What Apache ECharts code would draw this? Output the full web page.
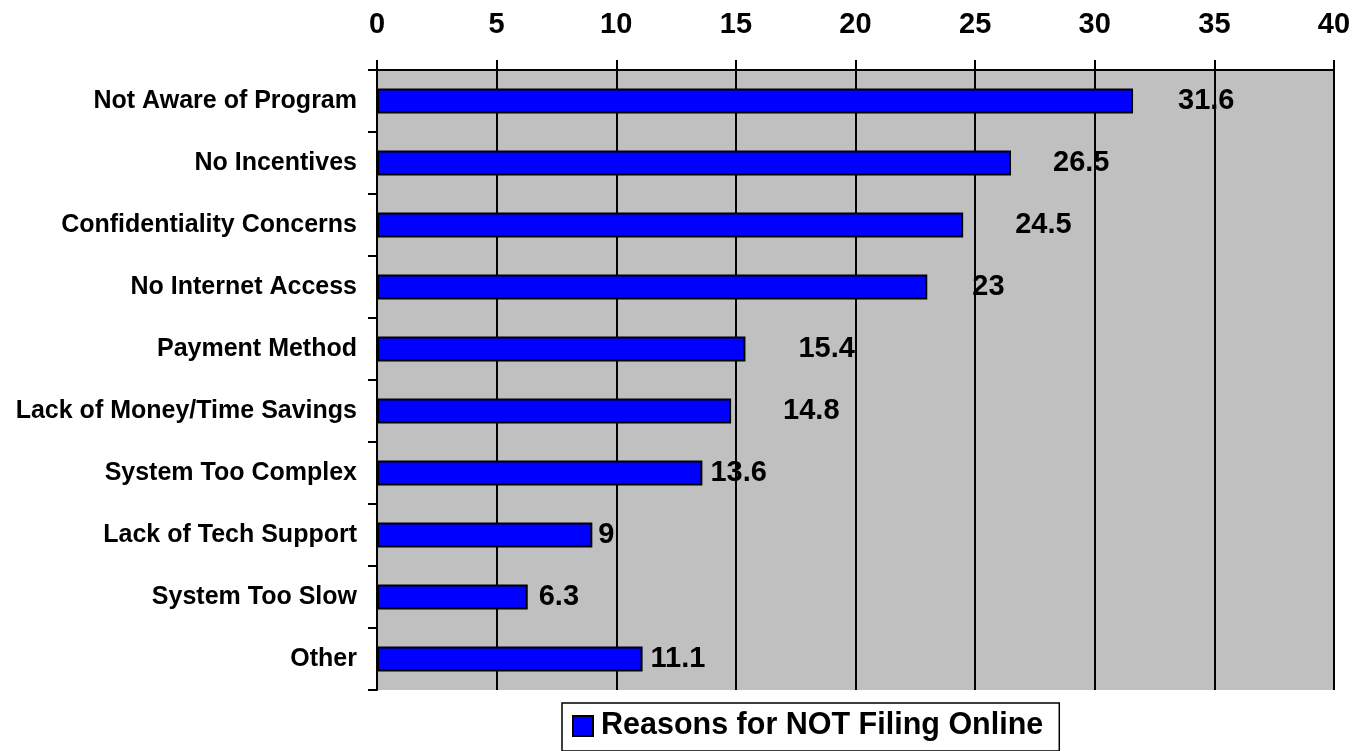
<!DOCTYPE html>
<html><head><meta charset="utf-8">
<script src="https://cdn.jsdelivr.net/npm/echarts@6/dist/echarts.min.js"></script>
<style>html,body{margin:0;padding:0;background:#fff}#c{width:1368px;height:751px}</style>
</head><body><div id="c"></div>
<script>
const categories = ["Not Aware of Program","No Incentives","Confidentiality Concerns","No Internet Access","Payment Method","Lack of Money/Time Savings","System Too Complex","Lack of Tech Support","System Too Slow","Other"];
const values = [31.6, 26.5, 24.5, 23, 15.4, 14.8, 13.6, 9, 6.3, 11.1];
const seriesName = "Reasons for NOT Filing Online";
const xTicks = {min: 0, max: 40, interval: 5};
// label gaps (px) from bar end, as placed in the original
const labelGap = [45, 42, 52, 45, 53, 52, 8, 6, 11, 8];

const chart = echarts.init(document.getElementById('c'));
const font = '"Liberation Sans", Arial, sans-serif';
chart.setOption({
  animation: false,
  backgroundColor: '#fff',
  grid: {left: 377, right: 34, top: 70, bottom: 61, containLabel: false, show: true, backgroundColor: '#C0C0C0', borderWidth: 0},
  legend: {
    left: 562, top: 703, itemWidth: 20, itemHeight: 20, icon: 'rect',
    padding: [6, 16, 8, 10], borderColor: '#000', borderWidth: 1.5, backgroundColor: '#fff',
    textStyle: {fontFamily: font, fontWeight: 'bold', fontSize: 30.5, lineHeight: 34, color: '#000', padding: [0, 0, 0, 3]},
    data: [seriesName]
  },
  xAxis: {
    type: 'value', position: 'top', min: xTicks.min, max: xTicks.max, interval: xTicks.interval,
    axisLine: {show: true, lineStyle: {color: '#000', width: 2}},
    axisTick: {show: true, inside: false, length: 10, lineStyle: {color: '#000', width: 2}},
    splitLine: {show: true, lineStyle: {color: '#000', width: 2}},
    axisLabel: {fontFamily: font, fontWeight: 'bold', fontSize: 29, color: '#000', margin: 31}
  },
  yAxis: {
    type: 'category', inverse: true, data: categories,
    axisLine: {show: true, lineStyle: {color: '#000', width: 2}},
    axisTick: {show: true, inside: false, length: 9, alignWithLabel: false, lineStyle: {color: '#000', width: 2}},
    axisLabel: {fontFamily: font, fontWeight: 'bold', fontSize: 25, color: '#000', margin: 20}
  },
  series: [{
    name: seriesName, type: 'bar', barWidth: '40%',
    itemStyle: {color: '#0000FF', borderColor: '#000', borderWidth: 2},
    data: values.map((v, i) => ({
      value: v,
      label: {show: true, position: 'right', distance: labelGap[i],
        fontFamily: font, fontWeight: 'bold', fontSize: 29, color: '#000'}
    }))
  }]
});
</script></body></html>
